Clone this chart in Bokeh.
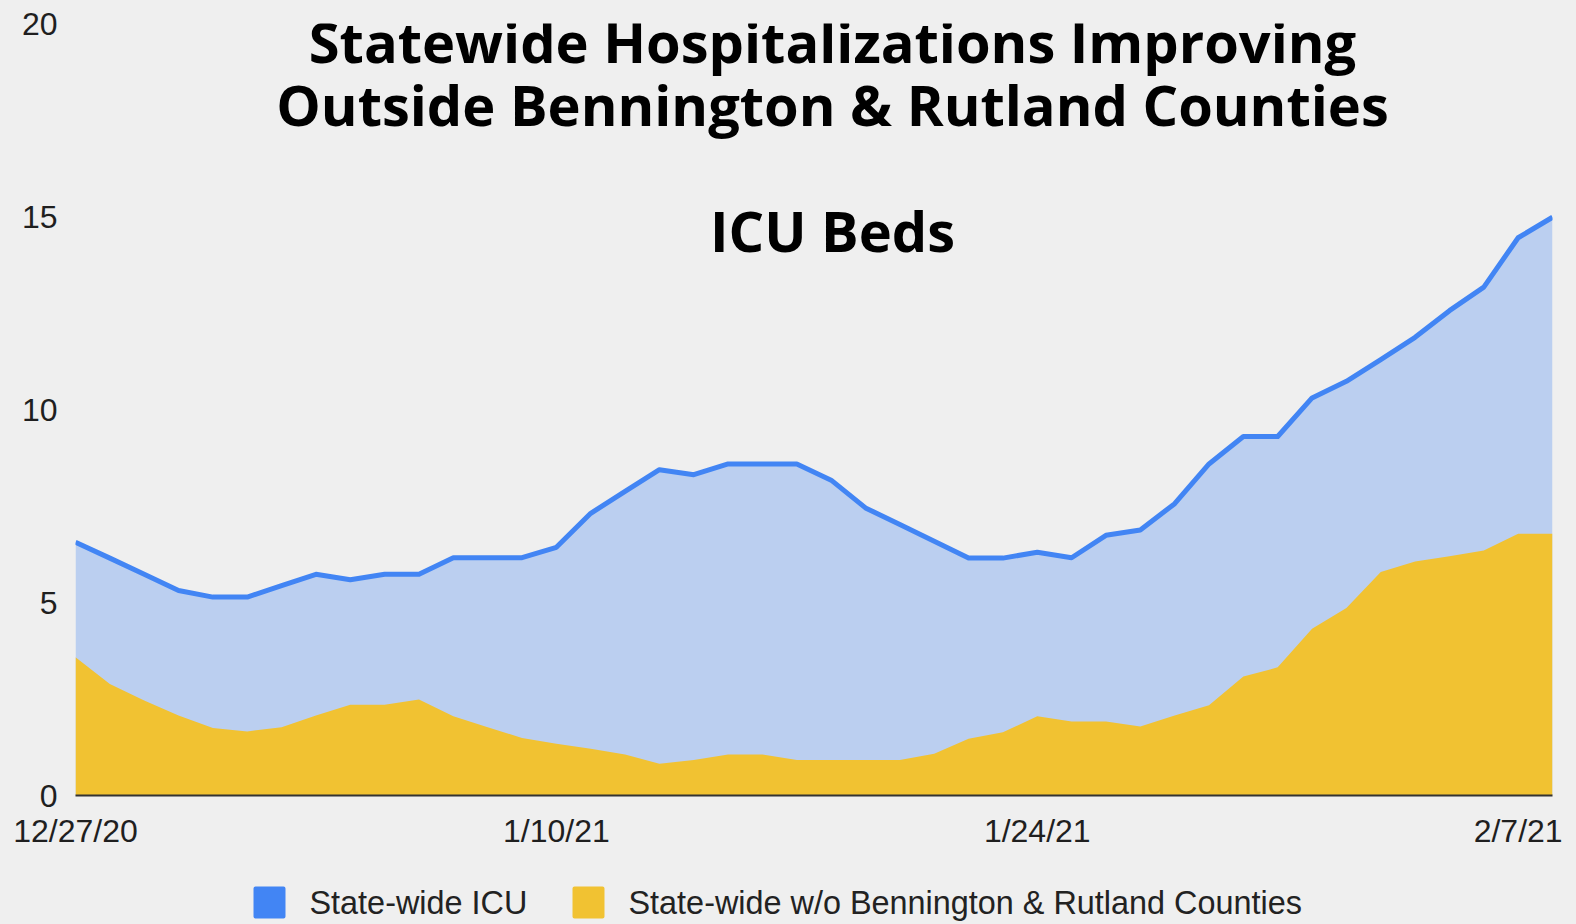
from bokeh.plotting import figure
from bokeh.layouts import column
from bokeh.models import ColumnDataSource, Range1d, FixedTicker, Label
from bokeh.core.properties import value
from bokeh.embed import file_html
from bokeh.resources import INLINE

# ---- data ----
dates = ["12/27/20", "12/28/20", "12/29/20", "12/30/20", "12/31/20",
         "1/1/21", "1/2/21", "1/3/21", "1/4/21", "1/5/21", "1/6/21", "1/7/21",
         "1/8/21", "1/9/21", "1/10/21", "1/11/21", "1/12/21", "1/13/21",
         "1/14/21", "1/15/21", "1/16/21", "1/17/21", "1/18/21", "1/19/21",
         "1/20/21", "1/21/21", "1/22/21", "1/23/21", "1/24/21", "1/25/21",
         "1/26/21", "1/27/21", "1/28/21", "1/29/21", "1/30/21", "1/31/21",
         "2/1/21", "2/2/21", "2/3/21", "2/4/21", "2/5/21", "2/6/21", "2/7/21",
         "2/8/21"]
statewide_icu = [6.56, 6.15, 5.73, 5.31, 5.14, 5.14, 5.44, 5.73, 5.59, 5.73,
                 5.73, 6.16, 6.16, 6.16, 6.43, 7.31, 7.88, 8.44, 8.31, 8.59,
                 8.59, 8.59, 8.17, 7.45, 7.02, 6.59, 6.15, 6.15, 6.30, 6.16,
                 6.74, 6.88, 7.56, 8.59, 9.30, 9.30, 10.30, 10.73, 11.29, 11.87,
                 12.56, 13.17, 14.45, 14.98]
without_benn_rut = [3.58, 2.89, 2.46, 2.07, 1.75, 1.66, 1.77, 2.07, 2.35, 2.35,
                    2.49, 2.05, 1.77, 1.49, 1.34, 1.21, 1.06, 0.82, 0.92, 1.06,
                    1.06, 0.92, 0.92, 0.92, 0.92, 1.08, 1.47, 1.64, 2.05, 1.92,
                    1.92, 1.79, 2.07, 2.34, 3.08, 3.32, 4.32, 4.86, 5.79, 6.06,
                    6.20, 6.35, 6.78, 6.78]
tick_dates = ["12/27/20", "1/10/21", "1/24/21", "2/7/21"]
y_ticks = [0, 5, 10, 15, 20]
series_names = ["State-wide ICU", "State-wide w/o Bennington & Rutland Counties"]
title_lines = ["Statewide Hospitalizations Improving",
               "Outside Bennington & Rutland Counties"]
subtitle = "ICU Beds"

BG = "#efefef"
BLUE = "#4285f4"
BLUE_AREA = "#bbcff0"
YELLOW = "#f1c232"

# layout (page pixels)
FRAME_L, FRAME_R, FRAME_T, FRAME_B = 75, 1552, 23, 795
W = 1576
H_MAIN = 866
H_LEG = 58

x = list(range(len(dates)))
src = ColumnDataSource(dict(x=x, icu=statewide_icu, wo=without_benn_rut,
                            zero=[0] * len(x)))

p = figure(width=W, height=H_MAIN, output_backend="svg", toolbar_location=None,
           x_range=Range1d(0, len(dates) - 1), y_range=Range1d(0, 20),
           min_border_left=FRAME_L, min_border_right=W - FRAME_R,
           min_border_top=FRAME_T, min_border_bottom=H_MAIN - FRAME_B)
p.background_fill_color = None
p.border_fill_color = BG
p.outline_line_color = None
p.xgrid.visible = False
p.ygrid.visible = False

p.varea(x="x", y1="zero", y2="icu", source=src, fill_color=BLUE_AREA)
p.varea(x="x", y1="zero", y2="wo", source=src, fill_color=YELLOW)
p.line(x="x", y="icu", source=src, line_color=BLUE, line_width=5,
       line_join="round")

# axes
tick_pos = [dates.index(d) for d in tick_dates]
p.xaxis.ticker = FixedTicker(ticks=tick_pos)
p.xaxis.major_label_overrides = {t: d for t, d in zip(tick_pos, tick_dates)}
p.yaxis.ticker = FixedTicker(ticks=y_ticks)
for ax in (p.xaxis[0], p.yaxis[0]):
    ax.major_tick_line_color = None
    ax.minor_tick_line_color = None
    ax.major_tick_out = 0
    ax.major_tick_in = 0
    ax.major_label_text_font = "Liberation Sans"
    ax.major_label_text_font_size = "32px"
    ax.major_label_text_color = "#1f1f1f"
p.yaxis.axis_line_color = None
p.yaxis.major_label_standoff = 18
p.xaxis.axis_line_color = "#333333"
p.xaxis.axis_line_width = 2
p.xaxis.major_label_standoff = 17

# titles (positioned via the plot's own scales)
ppx = (FRAME_R - FRAME_L) / (len(dates) - 1)
ppy = (FRAME_B - FRAME_T) / 20.0


def ydata(page_y):
    return (FRAME_B - page_y) / ppy


cx = (832 - FRAME_L) / ppx
for txt, py in [(title_lines[0], 40.5), (title_lines[1], 103), (subtitle, 229.5)]:
    p.add_layout(Label(x=cx, y=ydata(py), text=txt, text_font="Open Sans",
                       text_font_style="bold", text_font_size="56px",
                       text_color="#000000", text_align="center",
                       text_baseline="alphabetic"))

# legend strip below the chart (frame aligned with the chart's frame)
leg = figure(width=W, height=H_LEG, output_backend="svg", toolbar_location=None,
             x_range=Range1d(FRAME_L, FRAME_R), y_range=Range1d(0, H_LEG),
             x_axis_location=None, y_axis_location=None,
             min_border_left=FRAME_L, min_border_right=W - FRAME_R,
             min_border_top=0, min_border_bottom=0)
leg.background_fill_color = None
leg.border_fill_color = BG
leg.outline_line_color = None
leg.xgrid.visible = False
leg.ygrid.visible = False
leg_src = ColumnDataSource(dict(sx=[269, 588], tx=[309, 628], y=[22, 22],
                                label=series_names, color=[BLUE, YELLOW]))
leg.scatter(x="sx", y="y", source=leg_src, marker="square", size=28,
            fill_color="color", line_color="color", line_width=4,
            line_join="round")
leg.text(x="tx", y="y", text="label", source=leg_src,
         text_font=value("Liberation Sans"), text_font_size=value("32.4px"),
         text_color="#222222", text_baseline="middle", text_align="left")

layout = column(p, leg, spacing=0, styles={"background-color": BG})
open("out.html", "w").write(file_html(layout, INLINE))
